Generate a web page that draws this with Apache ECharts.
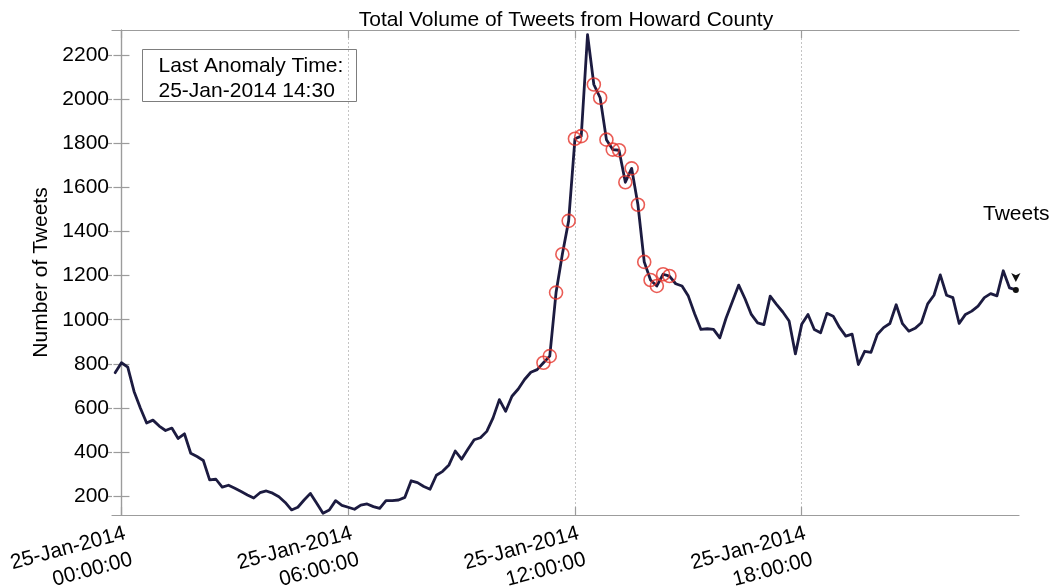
<!DOCTYPE html>
<html>
<head>
<meta charset="utf-8">
<script src="https://cdn.jsdelivr.net/npm/echarts@6/dist/echarts.min.js"></script>
<style>
  html, body { margin: 0; padding: 0; background: #ffffff; }
  #chart { width: 1055px; height: 587px; }
</style>
</head>
<body>
<div id="chart"></div>
<script>
// Tweet counts sampled every 10 minutes, first sample at 23:50 on 24-Jan-2014
const seriesStartMinute = -10;
const stepMinutes = 10;
const tweetCounts = [
  760, 805, 785, 675, 600, 532, 545, 518, 498, 509, 462, 483,
  395, 380, 362, 274, 277, 241, 250, 236, 221, 206, 192, 216,
  224, 214, 198, 172, 138, 150, 183, 213, 168, 123, 138, 180,
  159, 150, 141, 160, 165, 153, 145, 180, 180, 183, 195, 270,
  262, 244, 232, 295, 313, 342, 405, 368, 413, 456, 465, 494,
  555, 638, 585, 653, 686, 729, 762, 774, 805, 835, 1123, 1297,
  1448, 1820, 1832, 2292, 2066, 2006, 1816, 1771, 1768, 1623, 1686, 1521,
  1262, 1180, 1153, 1206, 1198, 1163, 1153, 1107, 1027, 956, 959, 956,
  918, 1008, 1083, 1157, 1095, 1024, 986, 978, 1107, 1070, 1035, 994,
  845, 979, 1024, 956, 941, 1029, 1016, 965, 926, 935, 797, 857,
  852, 933, 964, 983, 1068, 982, 948, 961, 986, 1072, 1111, 1203,
  1111, 1100, 983, 1024, 1039, 1062, 1100, 1118, 1108, 1222, 1144, 1135
];

// Minutes after midnight flagged as anomalous
const anomalyMinutes = [
  670, 680, 690, 700, 710, 720, 730,
  750, 760, 770, 780, 790, 800, 810, 820, 830, 840, 850, 860, 870
];

// Axis ticks
const xTickMinutes = [0, 360, 720, 1080];
const xTickLabels = [
  '25-Jan-2014\n00:00:00',
  '25-Jan-2014\n06:00:00',
  '25-Jan-2014\n12:00:00',
  '25-Jan-2014\n18:00:00'
];
const yTickValues = [200, 400, 600, 800, 1000, 1200, 1400, 1600, 1800, 2000, 2200];

const xMin = -15, xMax = 1425;
const yMin = 115, yMax = 2313;

const FONT = "'Liberation Sans', Arial, Helvetica, sans-serif";
const BOX = '#9c9c9c';
const LINE = '#1c1b40';
const RED = '#e5332a';

const minuteOf = i => seriesStartMinute + i * stepMinutes;
const lineData = tweetCounts.map((v, i) => [minuteOf(i), v]);
const anomalyData = anomalyMinutes.map(m => [m, tweetCounts[(m - seriesStartMinute) / stepMinutes]]);
const lastPoint = lineData[lineData.length - 1];

const pad = n => String(n).padStart(2, '0');
const lastAnomaly = anomalyMinutes[anomalyMinutes.length - 1];
const lastAnomalyText = '25-Jan-2014 ' + pad(Math.floor(lastAnomaly / 60)) + ':' + pad(lastAnomaly % 60);

const chart = echarts.init(document.getElementById('chart'), null, { renderer: 'canvas' });

const xLabelFor = v => {
  const k = xTickMinutes.indexOf(Math.round(v));
  return k >= 0 ? xTickLabels[k] : '';
};

const baseX = {
  type: 'value', min: xMin, max: xMax,
  axisLine: { show: true, lineStyle: { color: BOX, width: 1.2 } },
  axisTick: { show: true, inside: true, length: 8, customValues: xTickMinutes, lineStyle: { color: BOX, width: 1.2 } },
  splitLine: { show: false }
};
const baseY = {
  type: 'value', min: yMin, max: yMax,
  axisLine: { show: true, lineStyle: { color: BOX, width: 1.2 } },
  axisTick: { show: true, inside: true, length: 8, customValues: yTickValues, lineStyle: { color: BOX, width: 1.2 } },
  splitLine: { show: false }
};

chart.setOption({
  animation: false,
  backgroundColor: '#ffffff',
  textStyle: { fontFamily: FONT },
  title: {
    text: 'Total Volume of Tweets from Howard County',
    left: 561, top: 5, textAlign: 'center',
    textStyle: { fontFamily: FONT, fontSize: 21, fontWeight: 'normal', color: '#000' }
  },
  grid: { left: 112, right: 36, top: 30, bottom: 72, containLabel: false, outerBoundsMode: 'none' },
  xAxis: [
    Object.assign({}, baseX, {
      position: 'bottom',
      splitLine: { show: true, lineStyle: { color: '#c4c4c4', type: [2, 2], width: 1 } },
      axisLabel: {
        show: true, customValues: xTickMinutes, formatter: xLabelFor,
        rotate: 15, margin: 5, fontSize: 21, lineHeight: 27, color: '#000', fontFamily: FONT,
        align: 'right', verticalAlign: 'top'
      }
    }),
    Object.assign({}, baseX, { position: 'top', axisLabel: { show: false } })
  ],
  yAxis: [
    Object.assign({}, baseY, {
      position: 'left',
      name: 'Number of Tweets', nameLocation: 'middle', nameGap: 41,
      nameTextStyle: { fontSize: 21, color: '#000', fontFamily: FONT },
      axisLabel: { show: true, customValues: yTickValues, margin: 3, fontSize: 21, color: '#000', fontFamily: FONT,
        formatter: v => String(Math.round(v)) }
    }),
    Object.assign({}, baseY, { position: 'right', axisLabel: { show: false } }),
    // short outward ticks on the left edge
    Object.assign({}, baseY, {
      position: 'left', axisLine: { show: false }, axisLabel: { show: false },
      axisTick: { show: true, inside: false, length: 4, customValues: yTickValues, lineStyle: { color: BOX, width: 1.2 } }
    })
  ],
  series: [
    {
      name: 'Tweets', type: 'line', data: lineData,
      xAxisIndex: 0, yAxisIndex: 0,
      showSymbol: false, smooth: false,
      lineStyle: { color: LINE, width: 2.8, join: 'round', cap: 'round' },
      markPoint: {
        silent: true,
        label: { show: false },
        data: [
          { coord: lastPoint, symbol: 'circle', symbolSize: 6, itemStyle: { color: '#111' } },
          { coord: lastPoint, symbol: 'arrow', symbolRotate: 180, symbolSize: [7, 9], symbolOffset: [0, -8], itemStyle: { color: '#111' } }
        ]
      },
      z: 3
    },
    {
      name: 'Anomalies', type: 'scatter', data: anomalyData,
      xAxisIndex: 0, yAxisIndex: 0,
      symbol: 'circle', symbolSize: 13,
      itemStyle: { color: 'rgba(0,0,0,0)', borderColor: RED, borderWidth: 1.6 },
      z: 4
    }
  ],
  graphic: [
    {
      type: 'group', left: 142, top: 49,
      children: [
        { type: 'rect', shape: { x: 0, y: 0, width: 214, height: 52 }, style: { fill: '#fff', stroke: '#7d7d7d', lineWidth: 1 } },
        { type: 'text', x: 16, y: 4, style: { text: 'Last Anomaly Time:\n' + lastAnomalyText, font: '21px ' + FONT, lineHeight: 25, fill: '#000' } }
      ]
    },
    {
      type: 'text', left: 983, top: 204,
      style: { text: 'Tweets', font: '21px ' + FONT, fill: '#000' }
    }
  ]
});
</script>
</body>
</html>
